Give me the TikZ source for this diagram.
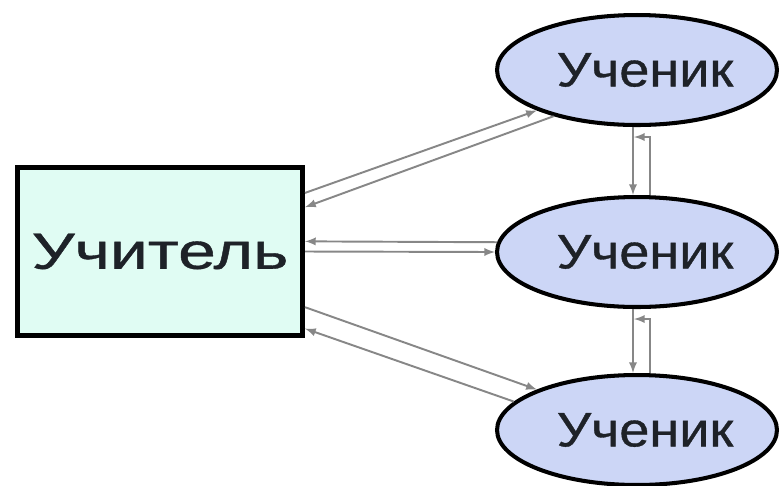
\documentclass[tikz,border=0pt]{standalone}
\usepackage{fontspec}
\usepackage{graphicx}
\usetikzlibrary{positioning,shapes.geometric,calc}
\newfontfamily\diagfont[FakeBold=0.7]{Liberation Sans}
\definecolor{teacherfill}{RGB}{224,252,243}
\definecolor{pupilfill}{RGB}{204,214,246}
\definecolor{linkgray}{RGB}{135,135,135}
\definecolor{inkdark}{RGB}{30,34,40}
\newcommand{\wide}[2]{\scalebox{#1}[1]{#2}}

\begin{document}
\begin{tikzpicture}[x=0.02cm, y=-0.02cm,
    teacherbox/.style={draw, line width=2.9pt, fill=teacherfill, rectangle,
        minimum width=5.7cm, minimum height=3.36cm, inner sep=0pt, text=inkdark,
        font=\diagfont\fontsize{29pt}{32pt}\selectfont},
    pupil/.style={draw, line width=2.3pt, fill=pupilfill, ellipse,
        minimum width=5.6cm, minimum height=2.2cm, inner sep=0pt, text=inkdark,
        font=\diagfont\fontsize{27.5pt}{30pt}\selectfont},
    link/.style={draw=linkgray, line width=1.1pt, -latex}]
\useasboundingbox (0,0) rectangle (782,485);

\node[teacherbox] (teacher) at (160,251.5) {\wide{1.33}{Учитель}};
\node[pupil] (pupil1) at (637,70) {\hspace*{0.32cm}\wide{1.12}{Ученик}};
\node[pupil] (pupil2) at (637,252) {\hspace*{0.32cm}\wide{1.12}{Ученик}};
\node[pupil] (pupil3) at (637,430) {\hspace*{0.32cm}\wide{1.12}{Ученик}};

% teacher <-> pupils
\draw[link] (teacher.22) -- (pupil1.202);
\draw[link] (pupil1.209) -- (teacher.17);
\draw[link] (pupil2.176) -- (teacher.4);
\draw[link] (teacher.east) -- (pupil2.west);
\draw[link] (teacher.339) -- (pupil3.158);
\draw[link] (pupil3.167) -- (teacher.332);

% pupil <-> pupil
\draw[link] ([xshift=-0.08cm]pupil1.south) -- ([xshift=-0.08cm]pupil2.north);
\draw[link] ([xshift=0.26cm]pupil2.north) |- ([xshift=-0.06cm,yshift=-0.2cm]pupil1.south);
\draw[link] ([xshift=-0.08cm]pupil2.south) -- ([xshift=-0.08cm]pupil3.north);
\draw[link] ([xshift=0.26cm]pupil3.north) |- ([xshift=-0.06cm,yshift=-0.2cm]pupil2.south);
\end{tikzpicture}
\end{document}
